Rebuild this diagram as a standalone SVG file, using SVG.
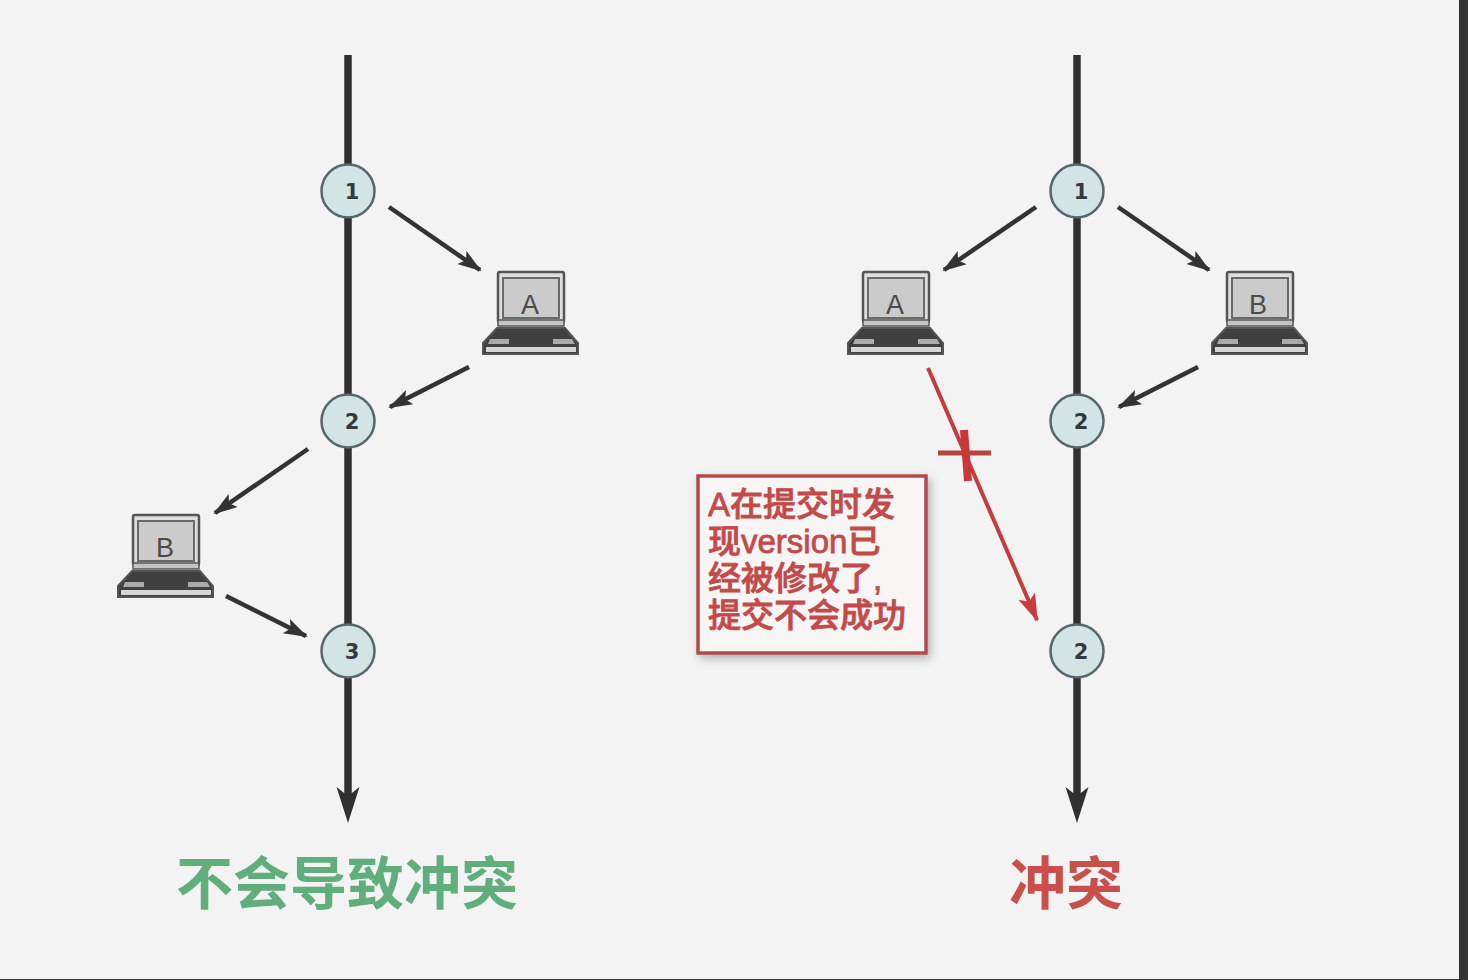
<svg xmlns="http://www.w3.org/2000/svg" width="1468" height="980" viewBox="0 0 1468 980">
<style>
.axis{stroke:#303030;stroke-width:7.5;fill:none}
.dark{stroke:#333;stroke-width:4.5;fill:none;marker-end:url(#ad)}
.red{stroke:#c43c3c;stroke-width:4;fill:none}
.circ{fill:#d3e4e4;stroke:#56666a;stroke-width:2.5}
.num{font:bold 21px "DejaVu Sans",sans-serif;fill:#333b40;text-anchor:middle}
.lab{font:27px "Liberation Sans",Arial,sans-serif;fill:#4a4a4a;text-anchor:middle}
.note{font:500 33px "Liberation Sans","Noto Sans CJK SC",sans-serif;fill:#c24a4a;stroke:#c24a4a;stroke-width:.8}
.title{font:bold 57px "Noto Sans CJK SC",sans-serif;text-anchor:middle}
</style>
<defs>
<marker id="ad" markerUnits="userSpaceOnUse" markerWidth="24" markerHeight="20" refX="22" refY="10" orient="auto"><path d="M0 2L24 10L0 18L5 10Z" fill="#333"/></marker>
<marker id="ar" markerUnits="userSpaceOnUse" markerWidth="28" markerHeight="22" refX="26" refY="11" orient="auto"><path d="M0 2L28 11L0 20L6 11Z" fill="#c43c3c"/></marker>
<marker id="am" markerUnits="userSpaceOnUse" markerWidth="36" markerHeight="24" refX="14" refY="12" orient="auto"><path d="M0 .5L36 12L0 23.5L9 12Z" fill="#303030"/></marker>
<filter id="sh" x="-10%" y="-10%" width="125%" height="125%"><feDropShadow dx="3" dy="4" stdDeviation="4" flood-color="#999" flood-opacity=".7"/></filter>
<g id="laptop">
<rect x="28" y="13" width="66" height="50" rx="2" fill="#dedede" stroke="#555" stroke-width="2.5"/>
<rect x="33" y="19" width="56" height="40" fill="#cbcbcb" stroke="#6a6a6a" stroke-width="2"/>
<rect x="28" y="61" width="66" height="6" fill="#c4c4c4" stroke="#555" stroke-width="1.5"/>
<path d="M27 69H95L108 84V95H13V84Z" fill="#404040" stroke="#555" stroke-width="2"/>
<path d="M20 80H39V85H18ZM83 80H102L105 85H83Z" fill="#aaa"/>
<path d="M16 88H106V93H16Z" fill="#d6d6d6"/>
</g>
</defs>
<rect width="1468" height="980" fill="#f3f3f3"/>
<rect x="1459" width="9" height="980" fill="#333"/>
<rect y="979" width="1468" height="1" fill="#333"/>
<g id="connectors">
<path class="axis" d="M348 55V801" marker-end="url(#am)"/>
<path class="axis" d="M1077 55V801" marker-end="url(#am)"/>
<path class="dark" d="M389 207L480 270"/>
<path class="dark" d="M469 367L390 407"/>
<path class="dark" d="M308 449L215 513"/>
<path class="dark" d="M226 596L306 636"/>
<path class="dark" d="M1036 207L944 270"/>
<path class="dark" d="M1118 207L1209 270"/>
<path class="dark" d="M1198 367L1119 407"/>
<path class="red" d="M928 368L1037 620" marker-end="url(#ar)"/>
<path d="M938 453H991" stroke="#b8443c" stroke-width="5" fill="none"/>
<path d="M964 430L968 481" stroke="#c83838" stroke-width="8" fill="none"/>
</g>
<g id="n1l"><circle class="circ" cx="348" cy="191" r="26.5"/><text class="num" x="352" y="199">1</text></g>
<g id="n2l"><circle class="circ" cx="348" cy="421" r="26.5"/><text class="num" x="352" y="429">2</text></g>
<g id="n3l"><circle class="circ" cx="348" cy="651" r="26.5"/><text class="num" x="352" y="659">3</text></g>
<g id="n1r"><circle class="circ" cx="1077" cy="191" r="26.5"/><text class="num" x="1081" y="199">1</text></g>
<g id="n2r"><circle class="circ" cx="1077" cy="421" r="26.5"/><text class="num" x="1081" y="429">2</text></g>
<g id="n3r"><circle class="circ" cx="1077" cy="651" r="26.5"/><text class="num" x="1081" y="659">2</text></g>
<g id="laptopA1"><use href="#laptop" x="470" y="259"/><text class="lab" x="530" y="314">A</text></g>
<g id="laptopB1"><use href="#laptop" x="105" y="502"/><text class="lab" x="165" y="557">B</text></g>
<g id="laptopA2"><use href="#laptop" x="835" y="259"/><text class="lab" x="895" y="314">A</text></g>
<g id="laptopB2"><use href="#laptop" x="1199" y="259"/><text class="lab" x="1258" y="314">B</text></g>
<g id="note">
<rect x="698" y="476" width="228" height="177" fill="#f8f5f5" stroke="#b54a4a" stroke-width="3.5" filter="url(#sh)"/>
<text class="note" x="708" y="516">A在提交时发</text>
<text class="note" x="708" y="553">现version已</text>
<text class="note" x="708" y="590">经被修改了,</text>
<text class="note" x="708" y="627">提交不会成功</text>
</g>
<text class="title" x="347" y="904" fill="#5fae7c">不会导致冲突</text>
<text class="title" x="1066" y="904" fill="#c9504a">冲突</text>
</svg>
